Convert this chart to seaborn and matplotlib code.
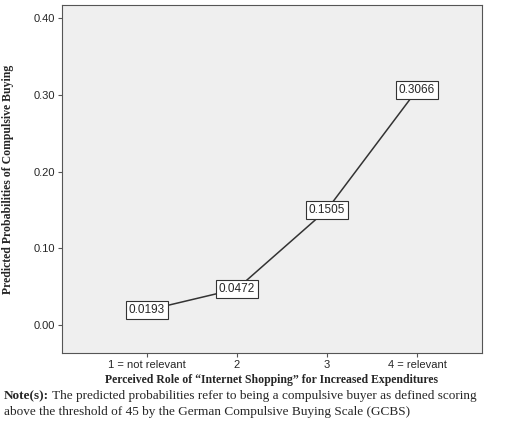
import matplotlib
matplotlib.use("Agg")
import matplotlib.pyplot as plt
import seaborn as sns
import pandas as pd

sns.set_style("white")
plt.rcParams["font.family"] = ["Liberation Serif", "DejaVu Serif"]

categories = ["1 = not relevant", "2", "3", "4 = relevant"]
probs = [0.0193, 0.0472, 0.1505, 0.3066]
yticks = [0.0, 0.1, 0.2, 0.3, 0.4]

df = pd.DataFrame({"x": range(len(categories)), "p": probs})

fig = plt.figure(figsize=(5.2, 4.23), dpi=100)
ax = fig.add_axes([0.119, 0.165, 0.808, 0.823])
ax.set_facecolor("#efefef")
sns.lineplot(data=df, x="x", y="p", color="#333333", linewidth=1.1, ax=ax)
for x, p in zip(df["x"], df["p"]):
    ax.text(x, p, f"{p:.4f}", ha="center", va="center", fontsize=8.5,
            family=["Liberation Sans", "DejaVu Sans"],
            bbox=dict(boxstyle="square,pad=0.25", fc="white", ec="#333333", lw=0.8))
ax.set_xlim(-0.94, 3.72)
ax.set_ylim(-0.0365, 0.417)
ax.set_xticks(range(len(categories)))
ax.set_xticklabels(categories, fontsize=8, family=["Liberation Sans", "DejaVu Sans"])
ax.set_yticks(yticks)
ax.set_yticklabels([f"{v:.2f}" for v in yticks], fontsize=8, family=["Liberation Sans", "DejaVu Sans"])
ax.tick_params(length=3, color="#555555", bottom=True, left=True, pad=2)
for s in ax.spines.values():
    s.set_color("#555555")
    s.set_linewidth(0.8)
ax.set_xlabel("Perceived Role of \u201cInternet Shopping\u201d for Increased Expenditures",
              fontsize=8.5, fontweight="bold", labelpad=3)
ax.set_ylabel("Predicted Probabilities of Compulsive Buying", fontsize=8.5,
              fontweight="bold", labelpad=14)

t = fig.text(0.008, 0.078, "Note(s):", fontsize=9.5, fontweight="bold", va="top")
fig.canvas.draw()
ax.annotate(" The predicted probabilities refer to being a compulsive buyer as defined scoring",
            xy=(1, 0), xycoords=t, va="bottom", fontsize=9.5)
fig.text(0.008, 0.04, "above the threshold of 45 by the German Compulsive Buying Scale (GCBS)",
         fontsize=9.5, va="top")
fig.savefig("out.png", dpi=100)
